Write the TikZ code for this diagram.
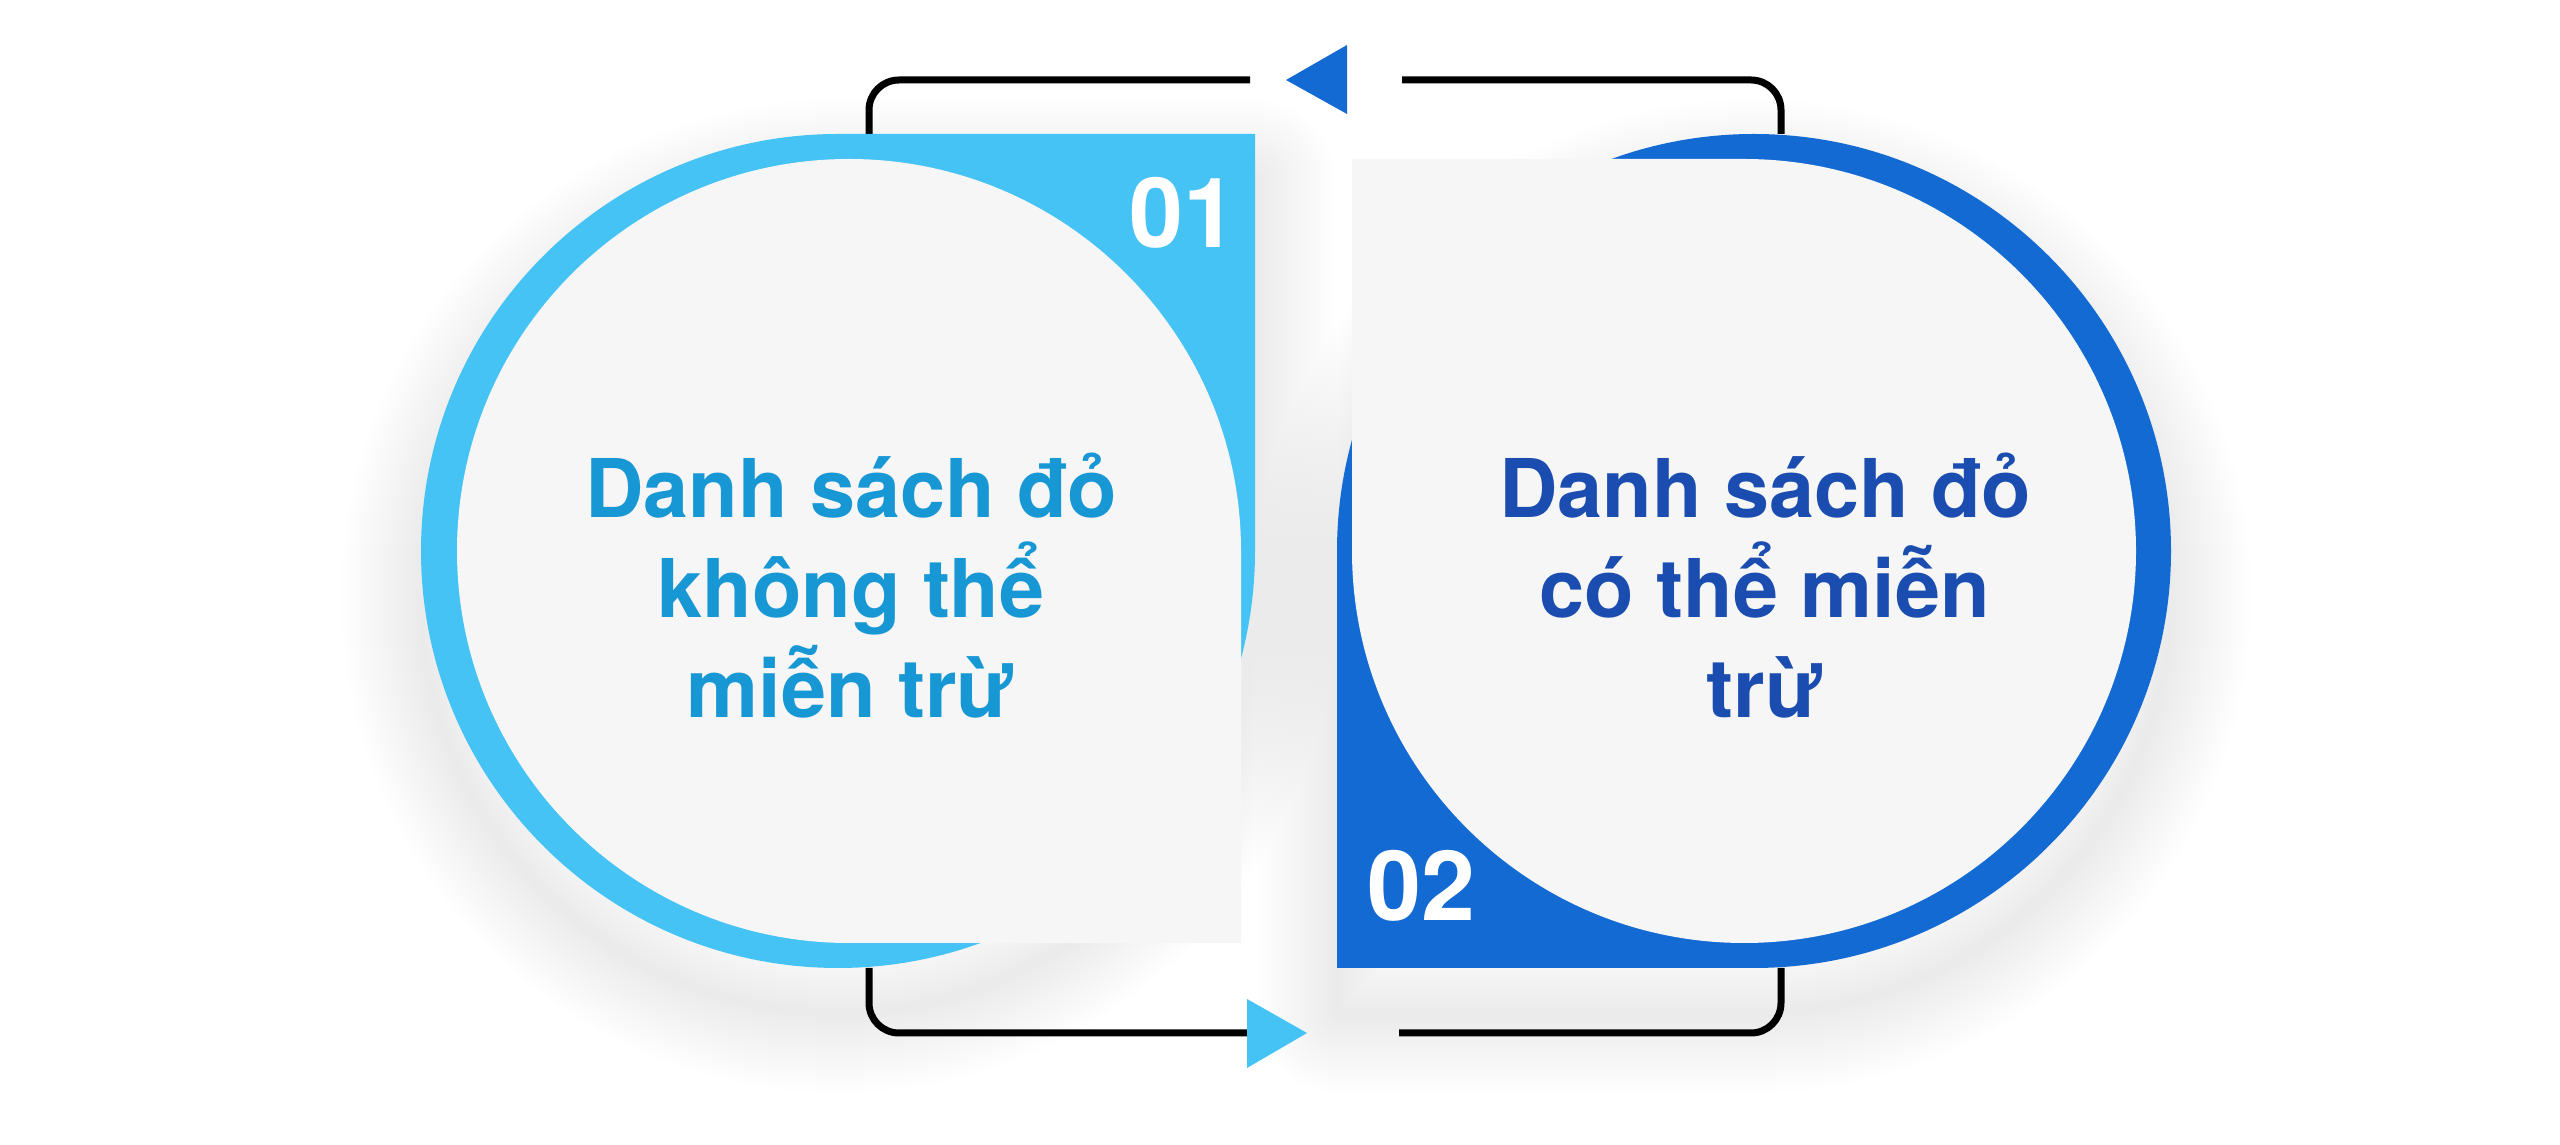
\documentclass[tikz,border=0pt]{standalone}
\usepackage{fontspec}
\setmainfont{TeX Gyre Heros}
\definecolor{lblue}{HTML}{45C3F4}
\definecolor{dblue}{HTML}{146AD3}
\definecolor{pgrey}{HTML}{F6F6F6}
\definecolor{ltext}{HTML}{1897D5}
\definecolor{dtext}{HTML}{1A4DAF}
\begin{document}
\begin{tikzpicture}[x=1pt,y=1pt,
  shadowstroke/.style={black, opacity=0.0042, line join=round},
  bracket/.style={line width=7pt, black, rounded corners=30pt},
  lbl/.style={font=\bfseries\fontsize{81}{100}\selectfont, align=center, inner sep=0pt},
  num/.style={font=\bfseries\fontsize{97}{97}\selectfont, text=white, inner sep=0pt}]
\useasboundingbox (0,0) rectangle (2560,1145);
\fill[white] (0,0) rectangle (2560,1145);
% soft shadows
\foreach \w in {8,16,...,160}{
  \draw[shadowstroke, line width=\w pt] (838,966) -- (1255,966) -- (1255,549) arc[start angle=0,end angle=-270,radius=417] -- cycle;
  \draw[shadowstroke, line width=\w pt] (1754,132) -- (1337,132) -- (1337,549) arc[start angle=180,end angle=-90,radius=417] -- cycle;
}
% connector end points
\coordinate (L1top) at (869,1011);
\coordinate (L1bot) at (869,177);
\coordinate (R1top) at (1781,1011);
\coordinate (R1bot) at (1781,177);
\coordinate (ta) at (1250,1065);
\coordinate (tb) at (1402,1065);
\coordinate (ba) at (1247,112);
\coordinate (bb) at (1399,112);
\draw[bracket] (L1top) |- (ta);
\draw[bracket] (tb) -| (R1top);
\draw[bracket] (L1bot) |- (ba);
\draw[bracket] (bb) -| (R1bot);
\fill[dblue] (1286,1065) -- (1347,1100) -- (1347,1031) -- cycle;
\fill[lblue] (1307,112) -- (1247,146) -- (1247,77) -- cycle;
% left shape
\fill[lblue] (838,1011) -- (1255,1011) -- (1255,594) arc[start angle=0,end angle=-270,radius=417] -- cycle;
\fill[pgrey] (849,202) -- (1241,202) -- (1241,594) arc[start angle=0,end angle=270,radius=392] -- cycle;
% right shape
\fill[dblue] (1754,177) -- (1337,177) -- (1337,594) arc[start angle=180,end angle=-90,radius=417] -- cycle;
\fill[pgrey] (1744,986) -- (1352,986) -- (1352,594) arc[start angle=180,end angle=450,radius=392] -- cycle;
% texts
\node[lbl, text=ltext] (t1) at (851,559) {Danh sách đỏ\\không thể\\miễn trừ};
\node[lbl, text=dtext] (t2) at (1765,559) {Danh sách đỏ\\có thể miễn\\trừ};
\node[num] (n1) at (1183,932) {01};
\node[num] (n2) at (1421,259) {02};
\end{tikzpicture}
\end{document}
